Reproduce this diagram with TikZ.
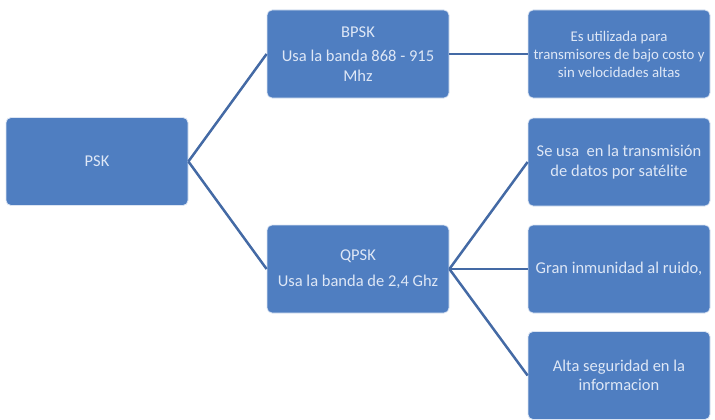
\documentclass[tikz,border=0pt]{standalone}
\usepackage{fontspec}
\setmainfont{Carlito}
\usepackage{tikz}

\definecolor{BoxBlue}{RGB}{79,126,193}
\definecolor{LineBlue}{RGB}{68,106,165}
\definecolor{TextBlue}{RGB}{222,231,246}

\begin{document}
\begin{tikzpicture}[x=1pt, y=-1pt,
  box/.style={draw=white!80!BoxBlue, line width=0.8pt, fill=BoxBlue, rounded corners=5pt,
              minimum width=182pt, minimum height=88pt, inner sep=2pt,
              text=TextBlue, align=center, font=\fontsize{16.5}{19.5}\selectfont},
  small/.style={font=\fontsize{14.8}{18}\selectfont},
  link/.style={LineBlue, line width=2.5pt}]
\useasboundingbox (0,0) rectangle (715,420);

\node[box] (psk)  at ( 97,161.5) {PSK};
\node[box] (bpsk) at (358, 54) {BPSK\\[5pt]Usa la banda 868 - 915\\Mhz};
\node[box] (qpsk) at (358,269) {QPSK\\[6pt]Usa la banda de 2,4 Ghz};

\node[box, small] (bajo) at (619, 54) {Es utilizada para\\transmisores de bajo costo y\\sin velocidades altas};
\node[box] (sat)   at (619,162) {Se usa~ en la transmisión\\de datos por satélite};
\node[box] (ruido) at (619,269) {Gran inmunidad al ruido,};
\node[box] (segur) at (619,375.5) {Alta seguridad en la\\informacion};

\draw[link] (psk.east) -- (bpsk.west);
\draw[link] (psk.east) -- (qpsk.west);
\draw[link] (bpsk.east) -- (bajo.west);
\draw[link] (qpsk.east) -- (sat.west);
\draw[link] (qpsk.east) -- (ruido.west);
\draw[link] (qpsk.east) -- (segur.west);

\end{tikzpicture}
\end{document}
